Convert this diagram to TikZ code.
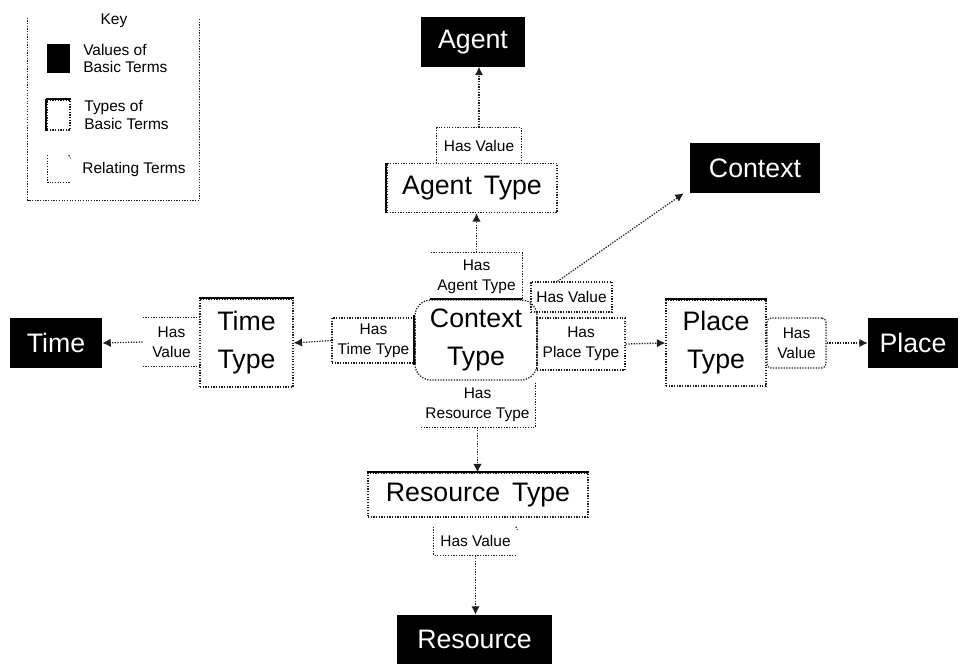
\documentclass[tikz,border=0pt]{standalone}
\usepackage{fontspec}
\setmainfont{Liberation Sans}
\usepackage{tikz}
\usetikzlibrary{arrows.meta, positioning}
\definecolor{dotline}{RGB}{30,30,30}
\newcommand{\termfont}{\fontsize{19}{27}\selectfont}
\newcommand{\relfont}{\fontsize{11}{14}\selectfont}
\newcommand{\keyfont}{\fontsize{11}{12.5}\selectfont}

\begin{document}
\begin{tikzpicture}[
    x=0.025cm, y=-0.025cm,
    valbox/.style={
      fill=black, text=white, font=\termfont, inner sep=0pt
    },
    typebox/.style={
      draw=dotline, densely dotted, line width=0.9pt, font=\termfont,
      align=center, inner sep=0pt
    },
    rel/.style={font=\relfont, align=center, inner sep=0pt},
    relline/.style={draw=dotline, densely dotted, line width=0.9pt},
    arr/.style={draw=dotline, densely dotted, line width=0.9pt, -{Latex[length=6pt, width=6pt]}},
    edgeline/.style={line width=1.4pt}
  ]
  \useasboundingbox (0,0) rectangle (960,664);

  % ── Key ────────────────────────────────────────────────────────
  \node[minimum width=4.275cm, minimum height=4.55cm, inner sep=0pt] (keybox) at (113.5,109) {};
  \draw[relline] (keybox.north west) |- (keybox.south east) -- (keybox.north east);
  \node[font=\relfont] (keyttl) at (114,21) {Key};

  \node[fill=black, minimum width=0.575cm, minimum height=0.725cm, inner sep=0pt] (keyval) at (58.5,58.5) {};
  \node[typebox, minimum width=0.575cm, minimum height=0.75cm] (keytype) at (58.5,115) {};
  \node[minimum width=0.55cm, minimum height=0.675cm, inner sep=0pt] (keyrel) at (59,169) {};
  \draw[relline] (keyrel.north west) |- (keyrel.south east);
  \draw[relline] ([xshift=-1pt]keyrel.north east) -- ++(1.5,3);

  \node[font=\keyfont, align=left, right=0.2cm of keyval] (keyvaltx) {Values of\\Basic Terms};
  \node[font=\keyfont, align=left, right=0.22cm of keytype] (keytypetx) {Types of\\Basic Terms};
  \node[font=\keyfont, align=left, right=0.18cm of keyrel] (keyreltx) {Relating Terms};

  % ── Centre: context type ───────────────────────────────────────
  \node[typebox, rounded corners=0.4cm, minimum width=3.05cm, minimum height=2cm] (ctx) at (476,340) {Context\\Type};

  % ── Agent (up) ─────────────────────────────────────────────────
  \node[valbox, minimum width=2.6cm, minimum height=1.225cm]  (agent)  at (473,42)  {Agent};
  \node[typebox, minimum width=4.25cm, minimum height=1.225cm] (agentt) at (472,188) {Agent\, Type};
  \node[rel, minimum width=2.1cm, minimum height=0.875cm]  (hvA)   at (479,145.5) {Has Value};
  \node[rel, minimum width=2.275cm, minimum height=1.175cm] (hasat) at (476.5,276.5) {Has\\Agent Type};

  \draw[relline] (hvA.south west) |- (hvA.north east) -- (hvA.south east);
  \draw[relline] (hasat.north west) -- (hasat.north east) -- (hasat.south east);
  \draw[arr] (hvA.north) -- (hvA.north |- agent.south);
  \draw[arr] (hasat.north) -- (hasat.north |- agentt.south);

  % ── Context (up right) ─────────────────────────────────────────
  \node[valbox, minimum width=3.25cm, minimum height=1.25cm] (context) at (755,168) {Context};
  \node[rel, relline, minimum width=2.025cm, minimum height=0.75cm] (hvC) at (571.5,297) {Has Value};
  \draw[arr] ([xshift=-0.35cm]hvC.north) -- ([xshift=-0.15cm]context.south west);

  % ── Place (right) ──────────────────────────────────────────────
  \node[rel, relline, minimum width=2.2cm, minimum height=1.3cm] (hpt) at (581,344) {Has\\Place Type};
  \node[typebox, minimum width=2.5cm, minimum height=2.15cm] (placet) at (716,343) {Place\\Type};
  \node[rel, relline, rounded corners=3pt, minimum width=1.475cm, minimum height=1.25cm] (hvP) at (796.5,343) {Has\\Value};
  \node[valbox, minimum width=2.25cm, minimum height=1.25cm] (place) at (913,343) {Place};

  \draw[arr] (hpt.east) -- (placet.west);
  \draw[arr] (hvP.east) -- (place.west);

  % ── Time (left) ────────────────────────────────────────────────
  \node[rel, relline, minimum width=2.075cm, minimum height=1.125cm] (htt) at (373.5,340.5) {Has\\Time Type};
  \node[typebox, minimum width=2.325cm, minimum height=2.2cm] (timet) at (246.5,343) {Time\\Type};
  \node[rel, minimum width=1.425cm, minimum height=1.2cm] (hvT) at (171.5,342) {Has\\Value};
  \node[valbox, minimum width=2.3cm, minimum height=1.25cm] (time) at (56,343) {Time};

  \draw[relline] (hvT.north west) -- (hvT.north east);
  \draw[relline] (hvT.south west) -- (hvT.south east);
  \draw[arr] (htt.west) -- (timet.east);
  \draw[arr] (hvT.west) -- (time.east);

  % ── Resource (down) ────────────────────────────────────────────
  \node[rel, minimum width=2.875cm, minimum height=1.1cm] (hrt) at (477.5,405) {Has\\Resource Type};
  \node[typebox, minimum width=5.5cm, minimum height=1.1cm] (rest) at (478,495) {Resource\, Type};
  \node[rel, minimum width=2.075cm, minimum height=0.7cm] (hvR) at (475.5,541) {Has Value};
  \node[valbox, minimum width=3.875cm, minimum height=1.225cm] (resource) at (474.5,639.5) {Resource};

  \draw[relline] (hrt.north east) -- (hrt.south east) -- (hrt.south west);
  \draw[relline] (hvR.north west) |- (hvR.south east);
  \draw[relline] ([xshift=-1pt]hvR.north east) -- ++(1.5,3);
  \draw[arr] (hrt.south) -- (hrt.south |- rest.north);
  \draw[arr] (hvR.south) -- (hvR.south |- resource.north);

  % ── Solid edges on the type boxes ──────────────────────────────
  \foreach \n in {timet, placet, rest, keytype}
    \draw[edgeline] (\n.north west) -- (\n.north east);
  \foreach \n in {agentt, keytype}
    \draw[edgeline] (\n.north west) -- (\n.south west);
  \draw[edgeline] ([xshift=0.4cm]ctx.north west) -- ([xshift=-0.4cm]ctx.north east);
  \draw[edgeline] ([yshift=-0.4cm]ctx.north west) -- ([yshift=0.4cm]ctx.south west);

\end{tikzpicture}
\end{document}
